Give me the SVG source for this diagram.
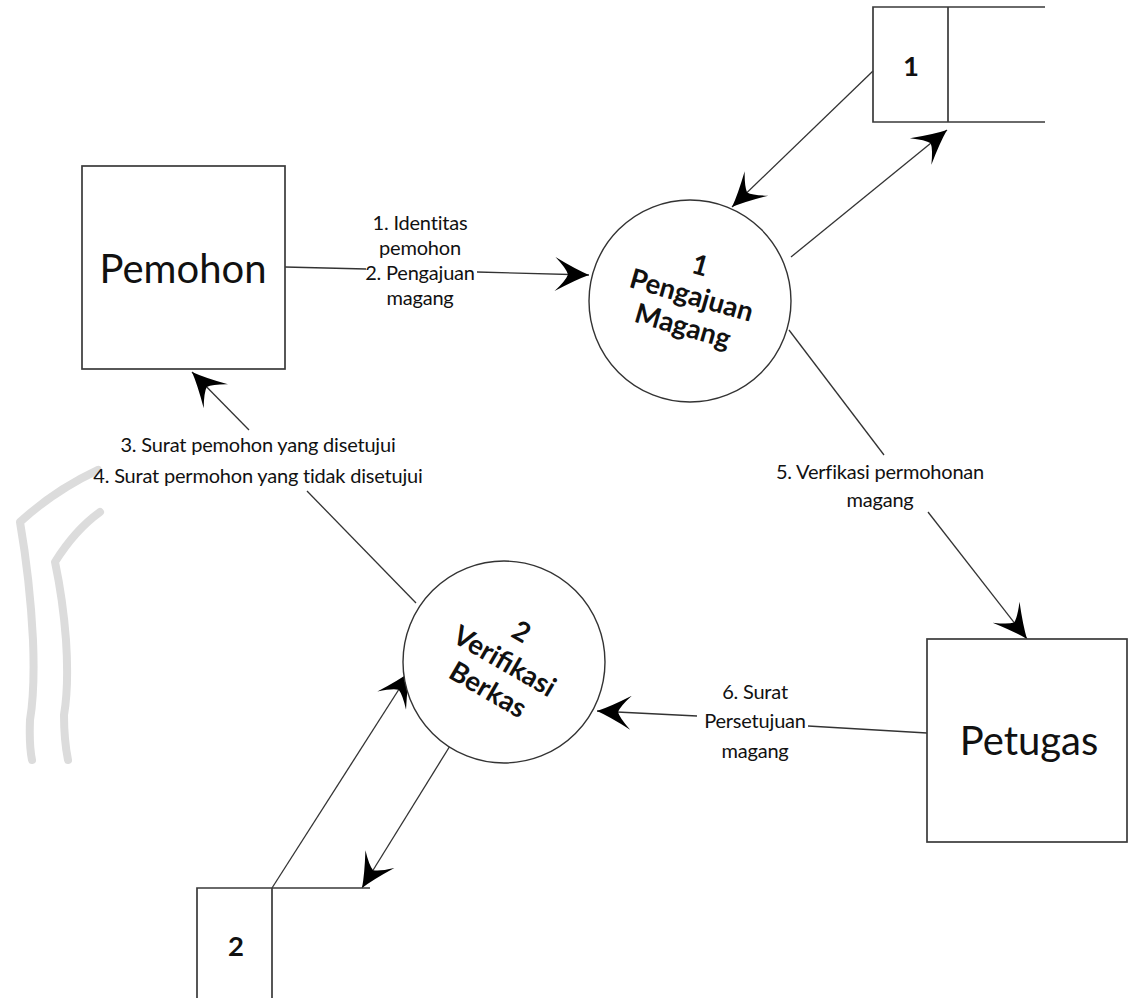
<svg xmlns="http://www.w3.org/2000/svg" width="1128" height="998" viewBox="0 0 1128 998">
<defs>
<style>
.box{fill:#fff;stroke:#3a3a3a;stroke-width:1.7}
.store{fill:none;stroke:#3a3a3a;stroke-width:1.7}
.proc{fill:#fff;stroke:#333;stroke-width:1.4}
.line{fill:none;stroke:#333;stroke-width:1.3}
.lbl{font-family:Lato,"Liberation Sans",sans-serif;font-size:20px;letter-spacing:-0.2px;fill:#111;text-anchor:middle;dominant-baseline:central}
.ent{font-family:Lato,"Liberation Sans",sans-serif;font-size:40px;fill:#111;text-anchor:middle;dominant-baseline:central}
.ptxt{font-family:Lato,"Liberation Sans",sans-serif;font-weight:bold;font-size:27.5px;fill:#111;text-anchor:middle;dominant-baseline:central}
.wm{fill:none;stroke:#dcdcdc;stroke-width:8;stroke-linecap:round;stroke-linejoin:round}
</style>
<marker id="ah" markerUnits="userSpaceOnUse" markerWidth="40" markerHeight="40" viewBox="-36 -20 40 40" refX="0" refY="0" orient="auto">
<path d="M0,0 Q-13,-5 -34,-17 Q-23,-6 -21,0 Q-23,6 -34,17 Q-13,5 0,0Z" fill="#000"/>
</marker>
</defs>
<rect width="1128" height="998" fill="#fff"/>
<g id="watermark">
<path class="wm" d="M98,470 Q55,490 20,522 Q30,580 33,640 Q35,690 30,720 Q29,745 32,760"/>
<path class="wm" d="M100,512 Q75,530 55,562 Q63,600 66,640 Q69,685 64,715 Q64,740 68,760"/>
</g>
<g id="connectors">
<line class="line" x1="285" y1="267" x2="366" y2="269"/>
<line class="line" x1="477" y1="272" x2="589" y2="275" marker-end="url(#ah)"/>
<line class="line" x1="873" y1="71" x2="732" y2="207" marker-end="url(#ah)"/>
<line class="line" x1="791" y1="257" x2="947" y2="130" marker-end="url(#ah)"/>
<line class="line" x1="789" y1="330" x2="884" y2="455"/>
<line class="line" x1="928" y1="512" x2="1027" y2="639" marker-end="url(#ah)"/>
<line class="line" x1="927" y1="733" x2="808" y2="726"/>
<line class="line" x1="697" y1="716" x2="597" y2="711" marker-end="url(#ah)"/>
<line class="line" x1="416" y1="603" x2="307" y2="491"/>
<line class="line" x1="249" y1="430" x2="192" y2="372" marker-end="url(#ah)"/>
<line class="line" x1="272" y1="888" x2="410" y2="672" marker-end="url(#ah)"/>
<line class="line" x1="458" y1="733" x2="362" y2="888" marker-end="url(#ah)"/>
<text class="lbl" x="420" y="222">1. Identitas</text>
<text class="lbl" x="420" y="247">pemohon</text>
<text class="lbl" x="420" y="272">2. Pengajuan</text>
<text class="lbl" x="420" y="297">magang</text>
<text class="lbl" x="258" y="444">3. Surat pemohon yang disetujui</text>
<text class="lbl" x="258" y="475">4. Surat permohon yang tidak disetujui</text>
<text class="lbl" x="880" y="471">5. Verfikasi permohonan</text>
<text class="lbl" x="880" y="499">magang</text>
<text class="lbl" x="755" y="691">6. Surat</text>
<text class="lbl" x="755" y="720">Persetujuan</text>
<text class="lbl" x="755" y="750">magang</text>
</g>
<g id="store1">
<path class="store" d="M1045,7 H873 V122 H1045 M948,7 V122"/>
<text class="ptxt" x="911" y="65">1</text>
</g>
<g id="store2">
<path class="store" d="M370,888 H197 V998 M272,888 V998"/>
<text class="ptxt" x="236" y="945">2</text>
</g>
<g id="pemohon">
<rect class="box" x="82" y="166" width="203" height="203"/>
<text class="ent" x="183" y="268">Pemohon</text>
</g>
<g id="petugas">
<rect class="box" x="927" y="639" width="200" height="203"/>
<text class="ent" x="1029" y="740">Petugas</text>
</g>
<g id="process1">
<circle class="proc" cx="690" cy="301" r="101"/>
<g transform="rotate(16 690 301)">
<text class="ptxt" x="690" y="263">1</text>
<text class="ptxt" x="690" y="294">Pengajuan</text>
<text class="ptxt" x="690" y="326">Magang</text>
</g>
</g>
<g id="process2">
<circle class="proc" cx="504" cy="662" r="101"/>
<g transform="rotate(30 504 662)">
<text class="ptxt" x="504" y="626">2</text>
<text class="ptxt" x="504" y="660">Verifikasi</text>
<text class="ptxt" x="504" y="693">Berkas</text>
</g>
</g>
</svg>
